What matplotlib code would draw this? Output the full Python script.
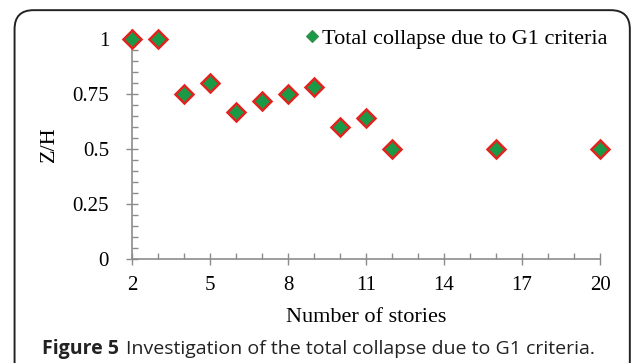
import matplotlib
matplotlib.use("Agg")
import matplotlib.pyplot as plt
from matplotlib.lines import Line2D
from matplotlib.patches import FancyBboxPatch
from matplotlib.ticker import MultipleLocator

stories = [2, 3, 4, 5, 6, 7, 8, 9, 10, 11, 12, 16, 20]
z_over_h = [1.0, 1.0, 0.75, 0.80, 0.67, 0.72, 0.75, 0.78, 0.60, 0.64, 0.50, 0.50, 0.50]
x_ticks = [2, 5, 8, 11, 14, 17, 20]
y_ticks = [0, 0.25, 0.5, 0.75, 1]
y_tick_labels = ["0", "0.25", "0.5", "0.75", "1"]
series_label = "Total collapse due to G1 criteria"

GREEN = "#1a9a47"
RED = "#e2231f"
AXIS = "#8c8c8c"
SERIF = "Liberation Serif"

fig = plt.figure(figsize=(6.33, 3.63), dpi=100)

# rounded frame around the whole figure
frame = FancyBboxPatch((0.023, -0.05), 0.972, 1.022,
                       boxstyle="round,pad=0,rounding_size=0.03",
                       transform=fig.transFigure, facecolor="none",
                       edgecolor="#222222", linewidth=1.4, mutation_aspect=1.74)
fig.patches.append(frame)

ax = fig.add_axes([0.2085, 0.2865, 0.7395, 0.6305])
ax.plot(stories, z_over_h, linestyle="none", marker="D", markersize=9.5,
        markerfacecolor=GREEN, markeredgecolor=RED, markeredgewidth=1.8,
        clip_on=False, zorder=3)

ax.set_xlim(2, 20)
ax.set_ylim(0, 1.04)
ax.set_xticks(x_ticks)
ax.set_yticks(y_ticks)
ax.set_yticklabels(y_tick_labels)
ax.xaxis.set_minor_locator(MultipleLocator(1))
ax.yaxis.set_minor_locator(MultipleLocator(0.05))

for side in ("top", "right"):
    ax.spines[side].set_visible(False)
for side in ("left", "bottom"):
    ax.spines[side].set_color(AXIS)
    ax.spines[side].set_linewidth(1.2)

ax.tick_params(which="major", direction="inout", length=9, width=1.0, color=AXIS,
               labelsize=15)
ax.tick_params(axis="y", which="major", pad=12)
ax.tick_params(axis="x", which="major", pad=8)
ax.tick_params(which="minor", direction="in", length=4, width=1.0, color=AXIS)
for lbl in ax.get_xticklabels() + ax.get_yticklabels():
    lbl.set_fontfamily(SERIF)

ax.set_xlabel("Number of stories", fontfamily=SERIF, fontsize=16, labelpad=9)
ax.set_ylabel("Z/H", fontfamily=SERIF, fontsize=16, labelpad=10)

handle = Line2D([], [], linestyle="none", marker="D", markersize=6,
                markerfacecolor=GREEN, markeredgecolor="#3c8c4c", markeredgewidth=0.8)
ax.legend([handle], [series_label], loc="upper right", bbox_to_anchor=(1.035, 1.048),
          frameon=False, prop={"family": SERIF, "size": 16},
          handlelength=0.6, handletextpad=0.15, borderaxespad=0)

# caption: bold figure number followed by regular text
cap_y = 0.025
head = fig.text(0.066, cap_y, "Figure 5", fontfamily="Open Sans", fontweight="bold",
                fontsize=14, color="#222222")
fig.canvas.draw()
bb = head.get_window_extent().transformed(fig.transFigure.inverted())
fig.text(bb.x1 + 0.011, cap_y, "Investigation of the total collapse due to G1 criteria.",
         fontfamily="Open Sans", fontsize=14, color="#222222")

fig.savefig("out.png", dpi=100)
